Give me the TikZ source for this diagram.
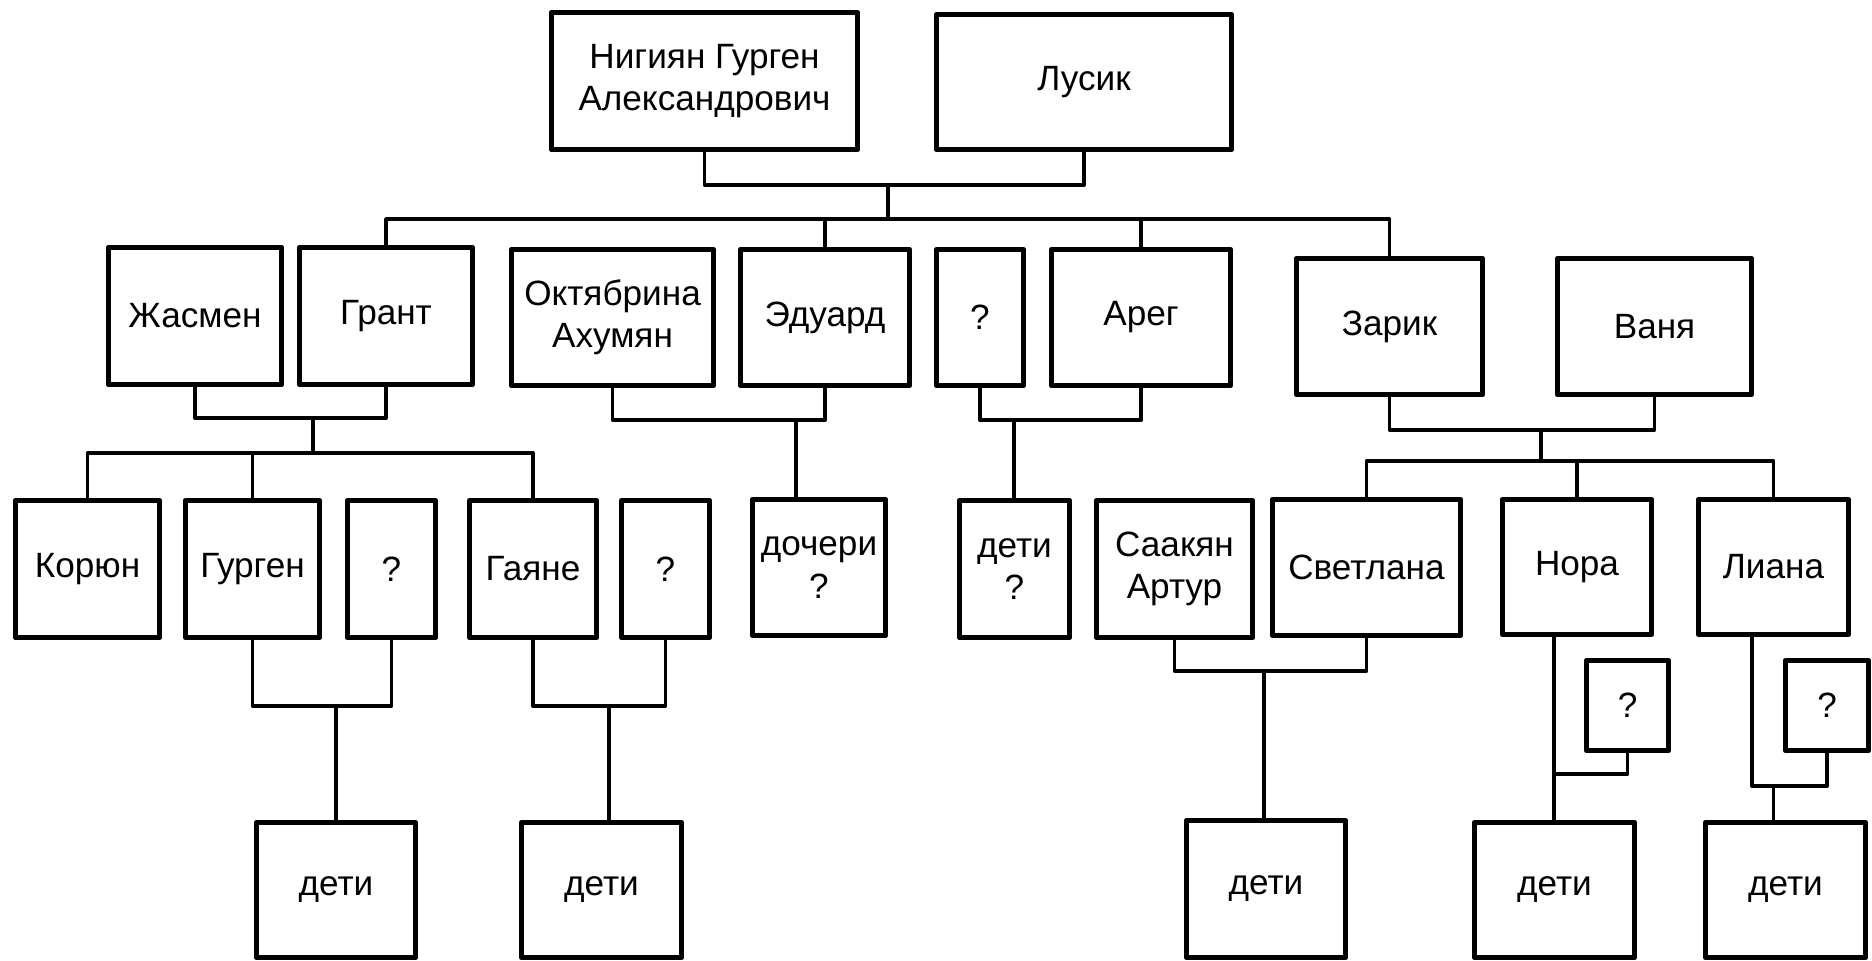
\documentclass[tikz,border=0pt]{standalone}
\usepackage{fontspec}
\setmainfont{Liberation Sans}
\tikzset{
  person/.style={draw,line width=1.3pt,line join=round,inner sep=0pt,align=center,font=\fontsize{10}{12}\selectfont},
  link/.style={line width=1.1pt,line join=round},
}
% box from outer corners (x1,y1) to (x2,y2), in pixels
\newcommand{\familybox}[7][]{%
\pgfmathsetmacro{\boxw}{(#5-#3-4.5)*0.1}
\pgfmathsetmacro{\boxh}{(#6-#4-4.5)*0.1}
\node[person,minimum width=\boxw mm,minimum height=\boxh mm,#1] (#2) at ({(#3+#5)/2},{(#4+#6)/2}) {#7};
}

\begin{document}
\begin{tikzpicture}[x=0.1mm,y=-0.1mm]
\useasboundingbox (0,0) rectangle (1872,961);
% first generation
\familybox{nigiyan}{549}{10}{860}{152}{Нигиян Гурген\\Александрович}
\familybox{lusik}{934}{12}{1234}{152}{Лусик}
% second generation
\familybox{jasmen}{106}{245}{284}{387}{Жасмен}
\familybox{grant}{297}{245}{475}{387}{Грант}
\familybox{oktyabrina}{509}{247}{716}{388}{Октябрина\\Ахумян}
\familybox{eduard}{738}{247}{912}{388}{Эдуард}
\familybox{unkareg}{934}{247}{1026}{388}{?}
\familybox{areg}{1049}{247}{1233}{388}{Арег}
\familybox{zarik}{1294}{256}{1485}{397}{Зарик}
\familybox{vanya}{1555}{256}{1754}{397}{Ваня}
% third generation
\familybox{korjun}{13}{498}{162}{640}{Корюн}
\familybox{gurgen}{183}{498}{322}{640}{Гурген}
\familybox{unkgurgen}{345}{498}{438}{640}{?}
\familybox{gayane}{467}{498}{599}{640}{Гаяне}
\familybox{unkgayane}{619}{498}{712}{640}{?}
\familybox{docheri}{750}{497}{888}{638}{дочери\\?}
\familybox{detiareg}{957}{498}{1072}{640}{дети\\?}
\familybox{saakyan}{1094}{498}{1255}{640}{Саакян\\Артур}
\familybox{svetlana}{1270}{497}{1463}{638}{Светлана}
\familybox{nora}{1500}{497}{1654}{637}{Нора}
\familybox{liana}{1696}{497}{1851}{637}{Лиана}
\familybox{unknora}{1584}{658}{1671}{753}{?}
\familybox{unkliana}{1783}{658}{1871}{753}{?}
% fourth generation
\familybox{detigurgen}{254}{820}{418}{960}{дети}
\familybox{detigayane}{519}{820}{684}{960}{дети}
\familybox{detisvetlana}{1184}{818}{1348}{960}{дети}
\familybox{detinora}{1472}{820}{1637}{960}{дети}
\familybox{detiliana}{1703}{820}{1868}{960}{дети}
% junctions
\coordinate (top) at (888,185);
\coordinate (kids) at (888,219);
\coordinate (jg) at (313,418);
\coordinate (jgkids) at (313,453);
\coordinate (oe) at (796,420);
\coordinate (ua) at (1014,420);
\coordinate (zv) at (1541,430);
\coordinate (zvkids) at (1541,461);
\coordinate (gu) at (336,706);
\coordinate (ga) at (609,706);
\coordinate (ss) at (1264,671);
\coordinate (nq) at (1554,774);
\coordinate (lq) at (1752,786);
% couples and children
\draw[link] (nigiyan.south) |- (top) -| (lusik.south);
\draw[link] (top) -- (kids);
\draw[link] (grant.north) |- (kids) -| (zarik.north);
\draw[link] (eduard.north) -- (eduard.north |- kids);
\draw[link] (areg.north) -- (areg.north |- kids);
\draw[link] (jasmen.south) |- (jg) -| (grant.south);
\draw[link] (jg) -- (jgkids);
\draw[link] (korjun.north) |- (jgkids) -| (gayane.north);
\draw[link] (gurgen.north) -- (gurgen.north |- jgkids);
\draw[link] (oktyabrina.south) |- (oe) -| (eduard.south);
\draw[link] (oe) -- (oe |- docheri.north);
\draw[link] (unkareg.south) |- (ua) -| (areg.south);
\draw[link] (ua) -- (ua |- detiareg.north);
\draw[link] (zarik.south) |- (zv) -| (vanya.south);
\draw[link] (zv) -- (zvkids);
\draw[link] (svetlana.north) |- (zvkids) -| (liana.north);
\draw[link] (nora.north) -- (nora.north |- zvkids);
\draw[link] (gurgen.south) |- (gu) -| (unkgurgen.south);
\draw[link] (gu) -- (gu |- detigurgen.north);
\draw[link] (gayane.south) |- (ga) -| (unkgayane.south);
\draw[link] (ga) -- (ga |- detigayane.north);
\draw[link] (saakyan.south) |- (ss) -| (svetlana.south);
\draw[link] (ss) -- (ss |- detisvetlana.north);
\draw[link] (nq |- nora.south) -- (nq |- detinora.north);
\draw[link] (unknora.south) |- (nq);
\draw[link] (lq |- liana.south) -- (lq) -| (unkliana.south);
\draw[link] (liana.south |- lq) -- (liana.south |- detiliana.north);
\end{tikzpicture}
\end{document}
